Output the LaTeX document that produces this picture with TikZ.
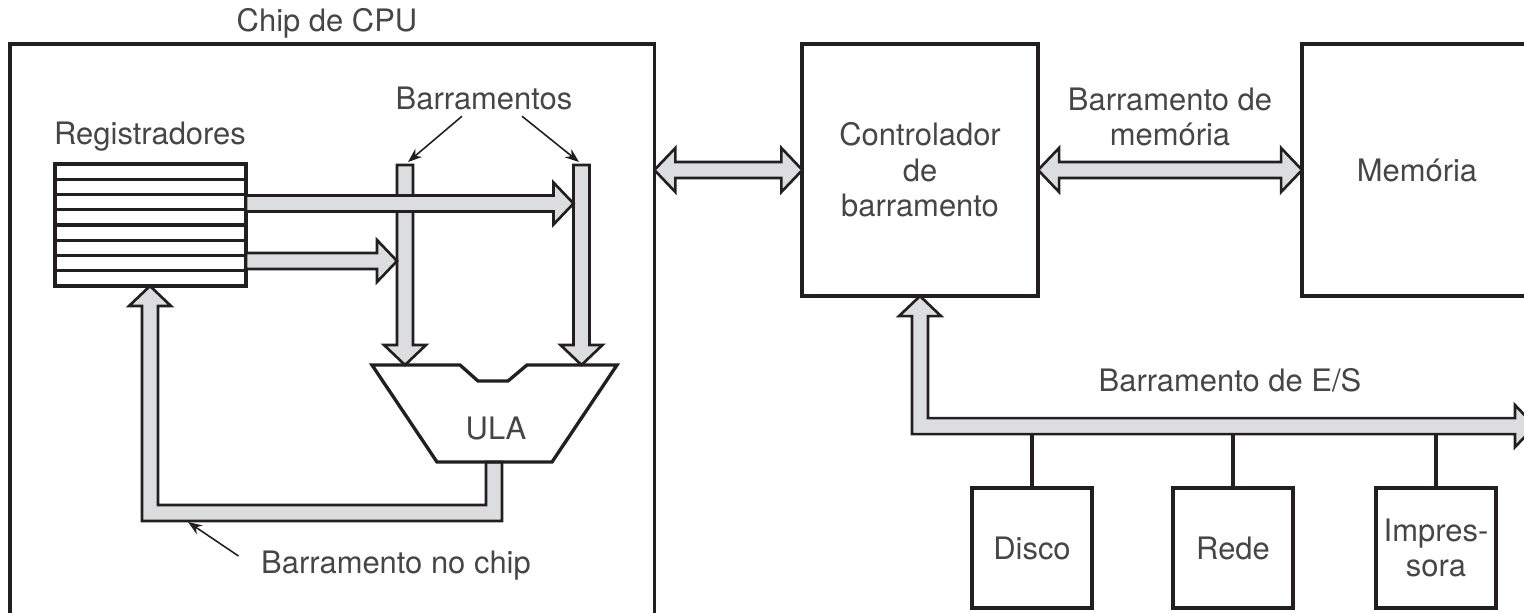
\documentclass[tikz,border=0pt]{standalone}
\usepackage{fontspec}
\setmainfont{TeX Gyre Heros}
\usepackage{xcolor}
\usepackage{tikz}
\usetikzlibrary{arrows.meta, positioning, calc}

\definecolor{busgray}{RGB}{220,221,223}
\definecolor{inkline}{RGB}{35,31,32}
\definecolor{inktext}{RGB}{70,70,70}
\newcommand{\labfont}{\fontsize{8.8}{10.1}\selectfont}

% fat bus arrows, sizes in px (x=0.01cm)
\newcommand{\busdown}[2]{% tip, length
  \draw[bus] #1 -- ++(21,-20) -- ++(-13,0) -- ++(0,{-(#2-20)}) -- ++(-16,0)
    -- ++(0,{#2-20}) -- ++(-13,0) -- cycle;}
\newcommand{\busright}[2]{% tip, length
  \draw[bus] #1 -- ++(-20,-21) -- ++(0,13) -- ++({-(#2-20)},0) -- ++(0,16)
    -- ++({#2-20},0) -- ++(0,13) -- cycle;}
\newcommand{\busboth}[2]{% left tip, length
  \draw[bus] #1 -- ++(21,-22) -- ++(0,14) -- ++({#2-42},0) -- ++(0,-14)
    -- ++(21,22) -- ++(-21,22) -- ++(0,-14) -- ++({-(#2-42)},0) -- ++(0,14) -- cycle;}

\tikzset{
  box/.style={draw=inkline, line width=0.95pt, outer sep=0pt, inner sep=0pt,
    align=center, text=inktext, font=\labfont},
  unitbox/.style={box, line width=1.15pt, minimum width=1.2cm, minimum height=1.2cm},
  bus/.style={draw=inkline, fill=busgray, line width=0.75pt, line join=miter},
  lbl/.style={text=inktext, font=\labfont, align=center, inner sep=0pt},
  link/.style={draw=inkline, line width=0.95pt},
  pointer/.style={draw=inkline, line width=0.45pt, -{Stealth[length=4pt, width=3pt]}}
}

\begin{document}
\begin{tikzpicture}[x=0.01cm, y=-0.01cm]
  \useasboundingbox (0,0) rectangle (1524,612);

  % Chip de CPU
  \node[box, minimum width=6.44cm, minimum height=6.2cm, anchor=north west] (cpu) at (10,44) {};
  \node[lbl] (cpulbl) at (327,23) {Chip de CPU};

  % Registradores
  \node[box, minimum width=1.91cm, minimum height=1.22cm, anchor=north west] (regs) at (55,164) {};
  \foreach \i in {1,...,7}
    \draw[link] ($(regs.north west)!\i/8!(regs.south west)$) -- ($(regs.north east)!\i/8!(regs.south east)$);
  \node[lbl] (regslbl) at (150,137) {Registradores};

  % barramentos internos
  \busdown{(405,365)}{200}
  \busdown{(581.5,365)}{200}
  \busright{(397,261)}{151}
  \busright{(573.5,203.5)}{327.5}
  \node[lbl] (barlbl) at (484,98) {Barramentos};
  \coordinate (busAtop) at (408,162);
  \coordinate (busBtop) at (579,162);
  \draw[pointer] ($(barlbl.south)+(-22,6)$) -- (busAtop);
  \draw[pointer] ($(barlbl.south)+(38,6)$) -- (busBtop);

  % barramento no chip
  \draw[bus] (502,462) -- (502,521) -- (142,521) -- (142,306) -- (129,306) -- (150,286)
    -- (171,306) -- (158,306) -- (158,505) -- (486,505) -- (486,462) -- cycle;
  \node[lbl] (chiplbl) at (396,566) {Barramento no chip};
  \coordinate (chipbus) at (188,522);
  \draw[pointer] ($(chiplbl.west)+(-22,-10)$) -- (chipbus);

  % ULA
  \draw[box, line join=miter] (372,365) -- (460,365) -- (478,381) -- (508,381) -- (527,365)
    -- (617,365) -- (552,462) -- (437,462) -- cycle;
  \node[lbl] (alu) at (496,428) {ULA};

  % Controlador e memoria
  \node[box, minimum width=2.36cm, minimum height=2.52cm] (ctrl) at (920,170) {Controlador\\de\\barramento};
  \node[box, minimum width=2.30cm, minimum height=2.52cm] (mem) at (1417,170) {Memória};
  \busboth{(cpu.east |- ctrl.west)}{148}
  \busboth{(ctrl.east)}{264}
  \node[lbl] (memlbl) at (1170,117) {Barramento de\\memória};

  % barramento de E/S
  \draw[bus] (ctrl.south) -- ++(21,20) -- ++(-13,0) -- ++(0,102) -- ++(587,0) -- ++(0,-13)
    -- ++(20,21) -- ++(-20,21) -- ++(0,-13) -- ++(-603,0) -- ++(0,-118) -- ++(-13,0) -- cycle;
  \node[lbl] (ioslbl) at (1230,380) {Barramento de E/S};
  \coordinate (iobus) at (0,434);

  % dispositivos
  \node[unitbox] (disco) at (1032,548) {Disco};
  \node[unitbox] (rede) at (1233,548) {Rede};
  \node[unitbox] (impr) at (1436,548) {Impres-\\sora};
  \foreach \d in {disco, rede, impr}
    \draw[link] (\d.north) -- (\d.north |- iobus);
\end{tikzpicture}
\end{document}
